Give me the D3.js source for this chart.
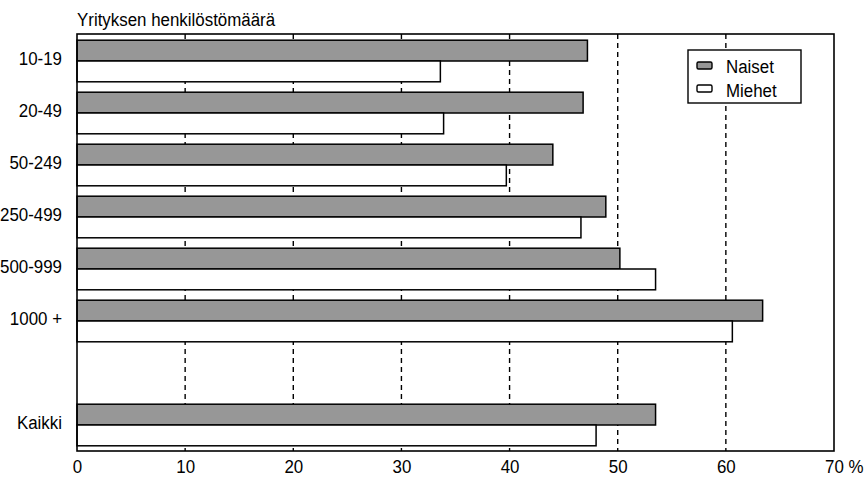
<!DOCTYPE html>
<html>
<head>
<meta charset="utf-8">
<script src="https://cdn.jsdelivr.net/npm/d3@7/dist/d3.min.js"></script>
<style>
  html, body { margin: 0; padding: 0; background: #fff; }
  svg text { font-family: "Liberation Sans", Arial, sans-serif; fill: #000; }
</style>
</head>
<body>
<svg id="chart" width="866" height="480"></svg>
<script>
// ---- data ----
const categories = ["10-19", "20-49", "50-249", "250-499", "500-999", "1000 +", "", "Kaikki"];
const naiset = [47.2, 46.8, 44.0, 48.9, 50.2, 63.4, null, 53.5];
const miehet = [33.6, 33.9, 39.7, 46.6, 53.5, 60.6, null, 48.0];
const seriesNames = ["Naiset", "Miehet"];
const xTicks = [0, 10, 20, 30, 40, 50, 60, 70];
const gridTicks = [10, 20, 30, 40, 50, 60];
const title = "Yrityksen henkilöstömäärä";

// ---- layout ----
const svg = d3.select("#chart");
const pLeft = 77, pRight = 834, pTop = 34, pBottom = 451;
const FS = 19, SX = 0.89;   // condensed look: horizontal squeeze
const x = d3.scaleLinear().domain([0, 70]).range([pLeft, pRight]);
const y = d3.scaleBand().domain(categories).range([pTop + 1, pBottom]).paddingInner(0.2).paddingOuter(0.1);
const sub = d3.scaleBand().domain(seriesNames).range([0, y.bandwidth()]);
const colors = { Naiset: "#979797", Miehet: "#ffffff" };

function squeeze(sel, px, py) {
  // place text at (px,py) and compress horizontally
  sel.attr("x", 0).attr("y", 0).attr("transform", `translate(${px},${py}) scale(${SX},1)`);
}

// title
svg.append("text").attr("font-size", FS).text(title).call(squeeze, pLeft, 26);

// gridlines
svg.append("g").selectAll("line").data(gridTicks).join("line")
  .attr("x1", d => x(d)).attr("x2", d => x(d))
  .attr("y1", pTop).attr("y2", pBottom)
  .attr("stroke", "#000").attr("stroke-width", 1.4)
  .attr("stroke-dasharray", "5,4");

// bars
const rows = categories.map((c, i) => ({ cat: c, Naiset: naiset[i], Miehet: miehet[i] })).filter(r => r.cat !== "");
const g = svg.append("g");
rows.forEach(r => {
  seriesNames.forEach(s => {
    g.append("rect")
      .attr("x", x(0))
      .attr("y", y(r.cat) + sub(s))
      .attr("width", x(r[s]) - x(0))
      .attr("height", sub.bandwidth())
      .attr("fill", colors[s])
      .attr("stroke", "#000")
      .attr("stroke-width", 1.5);
  });
});

// frame
svg.append("rect").attr("x", pLeft).attr("y", pTop).attr("width", pRight - pLeft).attr("height", pBottom - pTop)
  .attr("fill", "none").attr("stroke", "#000").attr("stroke-width", 1.6);

// x axis
const xAxis = d3.axisBottom(x).tickValues(xTicks).tickSize(0).tickPadding(9)
  .tickFormat(d => d === 70 ? "70 %" : String(d));
const xg = svg.append("g").attr("transform", `translate(0,${pBottom})`).call(xAxis);
xg.select(".domain").remove();
xg.selectAll("text").attr("font-size", FS).attr("fill", "#000")
  .attr("transform", `scale(${SX},1)`);
xg.selectAll(".tick").filter(d => d === 70).select("text")
  .attr("text-anchor", "start").attr("dx", "-0.556em");

// y axis
const yAxis = d3.axisLeft(y).tickValues(categories.filter(c => c !== "")).tickSize(0).tickPadding(15);
const yg = svg.append("g").attr("transform", `translate(${pLeft},-2)`).call(yAxis);
yg.select(".domain").remove();
yg.selectAll("text").attr("font-size", FS).attr("fill", "#000")
  .attr("x", -15 / SX).attr("transform", `scale(${SX},1)`);

// legend
const lg = svg.append("g");
lg.append("rect").attr("x", 688).attr("y", 50).attr("width", 113).attr("height", 53)
  .attr("fill", "#fff").attr("stroke", "#000").attr("stroke-width", 1.4);
seriesNames.forEach((s, i) => {
  lg.append("rect").attr("x", 697).attr("y", 62 + i * 23).attr("width", 15).attr("height", 7)
    .attr("rx", 1.5).attr("fill", colors[s]).attr("stroke", "#000").attr("stroke-width", 1.4);
  lg.append("text").attr("font-size", FS).text(s).call(squeeze, 726, 73 + i * 24);
});
</script>
</body>
</html>
